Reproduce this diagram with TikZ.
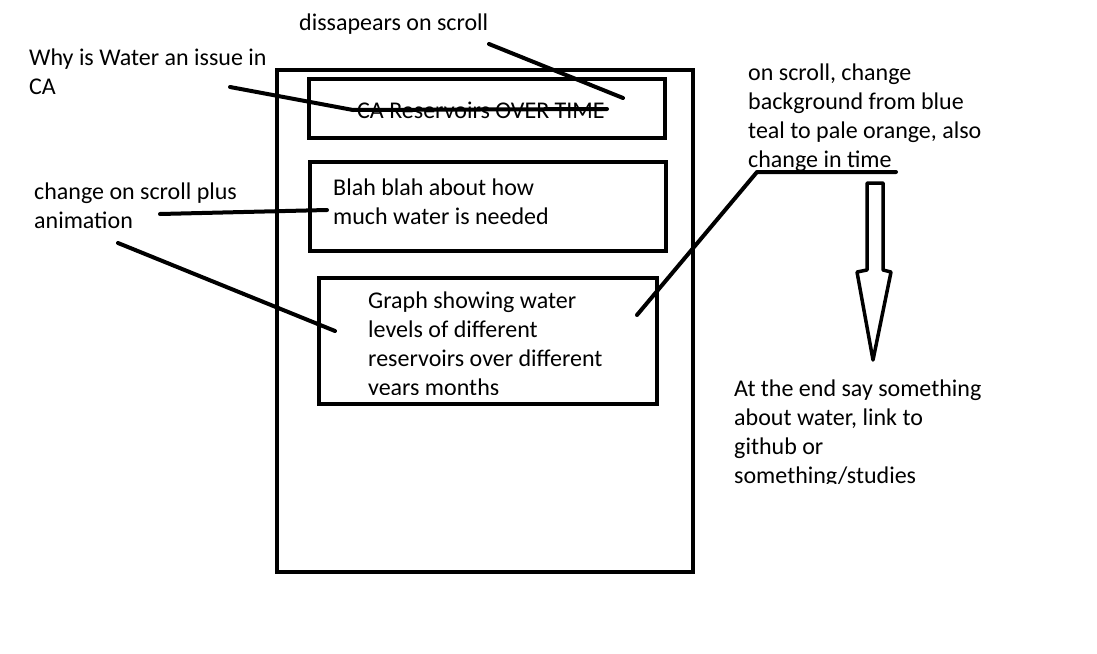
\documentclass[tikz,border=0pt]{standalone}
\usepackage{fontspec}
\setmainfont{Carlito}
\begin{document}
\begin{tikzpicture}[x=1pt,y=-1pt,
  box/.style={draw, line width=4pt, inner sep=0pt, outer sep=0pt, anchor=north west},
  lbl/.style={anchor=base west, inner sep=0pt, align=left, font=\fontsize{24}{29}\selectfont},
  conn/.style={line width=4pt, line cap=round, line join=round},
  blockarrow/.style={draw, line width=3.5pt, line join=round, fill=white}
]
\useasboundingbox (0,0) rectangle (1097,653);
\fill[white] (0,0) rectangle (1097,653);

% boxes
\node[box, minimum width=416pt, minimum height=502pt] (page) at (277,70) {};
\node[box, minimum width=356pt, minimum height=59pt] (title) at (309,79) {};
\node[box, minimum width=356pt, minimum height=89pt] (blah) at (310,162) {};
\node[box, minimum width=338pt, minimum height=126pt] (graph) at (319,278) {};

% texts (base anchor = baseline of the last line)
\node[lbl] (t1) at (299,30) {dissapears on scroll};
\node[lbl] (t2) at (29,94) {Why is Water an issue in\\CA};
\node[lbl] (t3) at (357,118) {CA Reservoirs OVER TIME};
\node[lbl] (t4) at (748,167) {on scroll, change\\background from blue\\teal to pale orange, also\\change in time};
\node[lbl] (t5) at (34,228) {change on scroll plus\\animation};
\node[lbl] (t6) at (333,224) {Blah blah about how\\much water is needed};
\begin{scope}
\clip (0,0) rectangle (1097,394);
\node[lbl] (t7) at (368,395) {Graph showing water\\levels of different\\reservoirs over different\\years months};
\end{scope}
\begin{scope}
\clip (0,0) rectangle (1097,483);
\node[lbl] (t8) at (734,483) {At the end say something\\about water, link to\\github or\\something/studies};
\end{scope}

% connector points
\coordinate (c1a) at (489,44);
\coordinate (c1b) at (623,98);
\coordinate (c2a) at (230,87);
\coordinate (c2b) at (353,110);
\coordinate (c2c) at (607,109);
\coordinate (c3a) at (160,214);
\coordinate (c3b) at (327,210);
\coordinate (c4a) at (118,243);
\coordinate (c4b) at (335,331);
\coordinate (c5a) at (637,315);
\coordinate (c5b) at (757,172);
\coordinate (c5c) at (896,172);

\draw[conn] (c1a) -- (c1b);
\draw[conn] (c2a) -- (c2b) -- (c2c);
\draw[conn] (c3a) -- (c3b);
\draw[conn] (c4a) -- (c4b);
\draw[conn] (c5a) -- (c5b) -- (c5c);

% block arrow
\draw[blockarrow] (867,183) -- (883,183) -- (883,270) -- (891,272) -- (873,360) -- (857,272) -- (867,270) -- cycle;
\end{tikzpicture}
\end{document}
